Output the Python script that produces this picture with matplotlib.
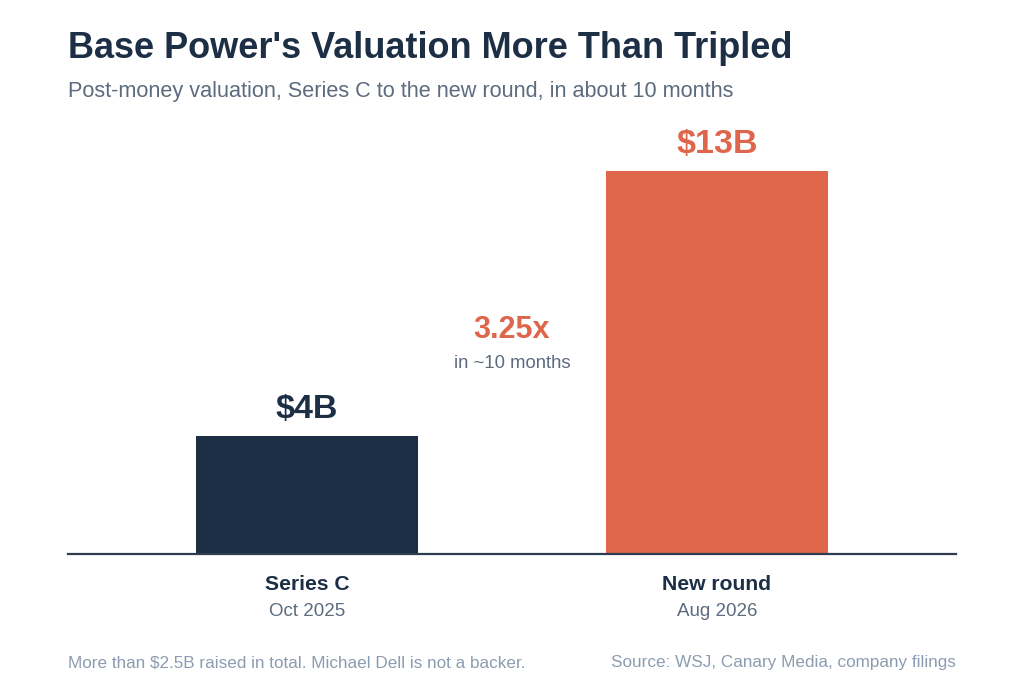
import matplotlib
matplotlib.use("Agg")
import matplotlib.pyplot as plt

plt.rcParams['font.family'] = ['Liberation Sans', 'DejaVu Sans']

categories = ["Series C", "New round"]
dates = ["Oct 2025", "Aug 2026"]
values = [4, 13]
value_labels = ["$4B", "$13B"]
multiple_label = "3.25x"
multiple_sub = "in ~10 months"
title = "Base Power's Valuation More Than Tripled"
subtitle = "Post-money valuation, Series C to the new round, in about 10 months"
footer_left = "More than $2.5B raised in total. Michael Dell is not a backer."
footer_right = "Source: WSJ, Canary Media, company filings"

NAVY = "#1c2f45"
ORANGE = "#e0664b"
GRAY = "#5c6b7e"
LIGHT = "#8c9cb0"
colors = [NAVY, ORANGE]

W, H = 1024, 700
fig = plt.figure(figsize=(W / 100, H / 100), dpi=100)
fig.patch.set_facecolor("white")

def fx(px):
    return px / W

def fy(py):
    return 1 - py / H

# axes: x 68..956, y baseline 554, top 130
ax = fig.add_axes([fx(68), fy(554), fx(956) - fx(68), fy(130) - fy(554)])
x = list(range(len(categories)))
ax.bar(x, values, width=0.541, color=colors, zorder=2)
ax.set_xlim(-0.583, 1.583)
ax.set_ylim(0, 14.39)
for s in ["top", "right", "left"]:
    ax.spines[s].set_visible(False)
ax.spines["bottom"].set_color("#2e3d50")
ax.spines["bottom"].set_linewidth(1.6)
ax.set_yticks([])
ax.set_xticks([])

for xi, v, lab, c in zip(x, values, value_labels, colors):
    ax.annotate(lab, (xi, v), xytext=(0, 8), textcoords="offset points",
                ha="center", va="bottom", fontsize=24.5, fontweight="bold", color=c)

for xi, cat, d in zip(x, categories, dates):
    ax.annotate(cat, (xi, 0), xytext=(0, -15), textcoords="offset points",
                ha="center", va="top", fontsize=15.2, fontweight="bold", color=NAVY)
    ax.annotate(d, (xi, 0), xytext=(0, -35), textcoords="offset points",
                ha="center", va="top", fontsize=13.5, color=GRAY)

fig.text(fx(512), fy(330), multiple_label, ha="center", va="center",
         fontsize=22, fontweight="bold", color=ORANGE)
fig.text(fx(512), fy(364), multiple_sub, ha="center", va="center",
         fontsize=13.3, color=GRAY)

fig.text(fx(68), fy(48), title, ha="left", va="center",
         fontsize=26, fontweight="bold", color=NAVY)
fig.text(fx(68), fy(92), subtitle, ha="left", va="center",
         fontsize=15.6, color=GRAY)

fig.text(fx(68), fy(663), footer_left, ha="left", va="center",
         fontsize=12.3, color=LIGHT)
fig.text(fx(956), fy(663), footer_right, ha="right", va="center",
         fontsize=12.3, color=LIGHT)

fig.savefig("out.png", dpi=100, facecolor="white")
